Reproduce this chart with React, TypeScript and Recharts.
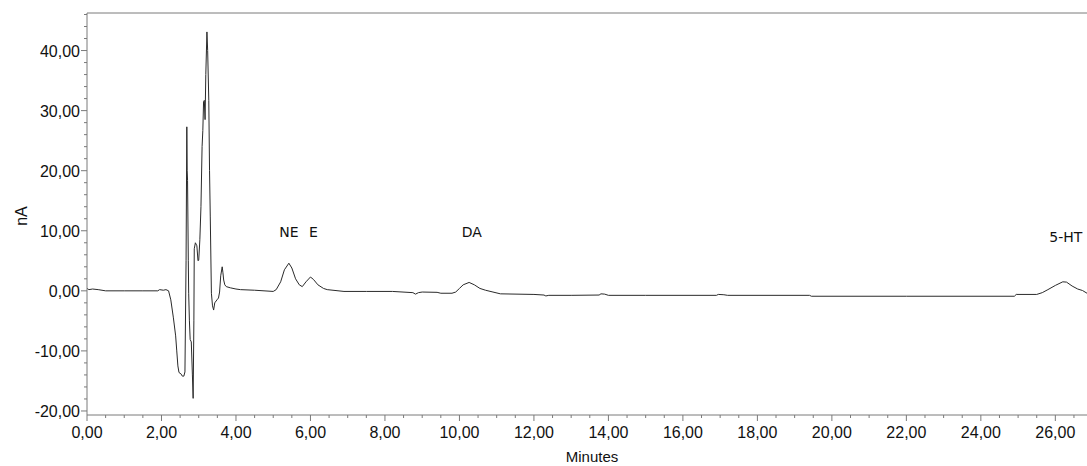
import { LineChart, Line, XAxis, YAxis, ReferenceLine, ReferenceDot } from 'recharts'

// retention time (minutes) and detector current (nA)
const minutes = [
  0, 0.05, 0.15, 0.3, 0.5, 1.0, 1.5, 1.9, 1.95, 2.05, 2.12, 2.19, 2.25, 2.32, 2.38,
  2.41, 2.44, 2.47, 2.52, 2.56, 2.6, 2.63, 2.66, 2.68, 2.69, 2.7, 2.72, 2.73, 2.75,
  2.77, 2.8, 2.83, 2.85, 2.87, 2.88, 2.91, 2.95, 2.98, 3.0, 3.03, 3.06, 3.09, 3.11,
  3.13, 3.15, 3.17, 3.19, 3.22, 3.24, 3.27, 3.29, 3.31, 3.34, 3.37, 3.4, 3.43, 3.49,
  3.53, 3.56, 3.59, 3.63, 3.65, 3.67, 3.7, 3.74, 3.85, 4.0, 4.12, 4.5, 5.0, 5.08,
  5.2, 5.3, 5.42, 5.5, 5.6, 5.7, 5.78, 5.88, 6.0, 6.08, 6.2, 6.35, 6.45, 6.9, 7.5,
  8.2, 8.75, 8.82, 8.9, 9.0, 9.4, 9.5, 9.8, 9.9, 10.0, 10.1, 10.26, 10.4, 10.55,
  10.7, 10.9, 11.1, 12.0, 12.27, 12.32, 12.4, 13.0, 13.75, 13.8, 13.9, 14.0, 15.0,
  16.9, 16.95, 17.1, 17.2, 19.4, 19.45, 22.0, 24.9, 24.95, 25.5, 25.65, 25.8, 26.0,
  26.2, 26.3, 26.45, 26.6, 26.73, 26.85,
]
const current = [
  0.4, 0.2, 0.3, 0.2, 0.0, 0.0, 0.0, 0.0, 0.2, 0.1, 0.2, 0.0, -1.5, -4.5, -7.5,
  -10, -12.5, -13.6, -13.8, -14.2, -14.2, -13.5, 5, 27.3, 20, 18.4, 5, -0.4, -5,
  -8.1, -8.5, -14, -17.9, -5, 7.0, 8.0, 7.5, 5.0, 5.1, 8.5, 14, 24, 26.7,
  31.5, 31.7, 28.5, 36, 43.1, 40, 31.7, 20, 12.3, -0.4, -2.5, -3.2, -2.0, -1.5,
  -1.2, -0.2, 2.5, 4.0, 3.0, 1.8, 1.0, 0.7, 0.5, 0.3, 0.2, 0.1, -0.1, 0.2,
  1.5, 3.5, 4.6, 3.8, 2.0, 1.0, 0.7, 1.5, 2.3, 1.9, 1.0, 0.4, 0.2, -0.1, -0.1,
  -0.1, -0.3, -0.55, -0.3, -0.2, -0.25, -0.4, -0.4, -0.2, 0.4, 1.0, 1.4, 1.0, 0.4,
  0.1, -0.2, -0.5, -0.6, -0.7, -0.85, -0.75, -0.75, -0.7, -0.5, -0.55, -0.75, -0.75,
  -0.75, -0.6, -0.65, -0.75, -0.75, -0.9, -0.9, -0.9, -0.6, -0.6, -0.3, 0.2, 0.9,
  1.5, 1.45, 0.8, 0.3, 0.05, -0.4,
]

const peakNames = ['NE', 'E', 'DA', '5-HT']
const peakTimes = [5.42, 6.08, 10.33, 26.28]
const peakLabelLevels = [9.8, 9.8, 9.8, 9.0]

const xTicks = Array.from({ length: 54 }, (_, i) => i * 0.5)
const yTicks = Array.from({ length: 34 }, (_, i) => -20 + i * 2)
const X_MAX = 26.85
const Y_MIN = -20.67
const Y_MAX = 46.25

const data = minutes.map((t, i) => ({ t, nA: current[i] }))

const fmt = (v: number) => v.toFixed(2).replace('.', ',')
const AXIS = '#7a7a7a'
const FONT = '"Liberation Sans", Arial, sans-serif'

function XTick(props: any) {
  const { x, y, payload } = props
  const major = Math.abs(payload.value % 2) < 1e-6
  return (
    <g>
      <line x1={x} x2={x} y1={y} y2={y + (major ? 6 : 3)} stroke={AXIS} />
      {major && (
        <text x={x} y={y + 23} textAnchor="middle" fill="#111" fontSize={16} fontFamily={FONT}>
          {fmt(payload.value)}
        </text>
      )}
    </g>
  )
}

function YTick(props: any) {
  const { x, y, payload } = props
  const major = Math.abs(payload.value % 10) < 1e-6
  return (
    <g>
      <line x1={x - (major ? 6 : 3)} x2={x} y1={y} y2={y} stroke={AXIS} />
      {major && (
        <text x={x - 7} y={y + 6} textAnchor="end" fill="#111" fontSize={16} fontFamily={FONT}>
          {fmt(payload.value)}
        </text>
      )}
    </g>
  )
}

export default function App() {
  return (
    <div style={{ position: 'absolute', left: 0, top: 0, background: '#fff' }}>
      <LineChart width={1087} height={466} data={data} margin={{ top: 13, right: 0, bottom: 0, left: 0 }}>
        <XAxis
          dataKey="t"
          type="number"
          domain={[0, X_MAX]}
          ticks={xTicks}
          allowDataOverflow
          interval={0}
          height={51}
          tickSize={0}
          tickMargin={0}
          tickLine={false}
          axisLine={{ stroke: AXIS }}
          tick={XTick}
          label={{
            content: () => (
              <text x={592} y={462} textAnchor="middle" fill="#111" fontSize={15} fontFamily={FONT}>
                Minutes
              </text>
            ),
          }}
        />
        <YAxis
          type="number"
          domain={[Y_MIN, Y_MAX]}
          ticks={yTicks}
          allowDataOverflow
          interval={0}
          width={87}
          tickSize={0}
          tickMargin={0}
          tickLine={false}
          axisLine={{ stroke: AXIS }}
          tick={YTick}
          label={{
            content: () => (
              <text
                x={21}
                y={216}
                transform="rotate(-90 21 216)"
                textAnchor="middle"
                dominantBaseline="central"
                fill="#111"
                fontSize={16}
                fontFamily={FONT}
              >
                nA
              </text>
            ),
          }}
        />
        <ReferenceLine y={Y_MAX} stroke={AXIS} />
        <Line
          type="linear"
          dataKey="nA"
          stroke="#2a2a2a"
          strokeWidth={1}
          dot={false}
          isAnimationActive={false}
        />
        {peakNames.map((name, i) => (
          <ReferenceDot
            key={name}
            x={peakTimes[i]}
            y={peakLabelLevels[i]}
            r={0}
            fill="none"
            stroke="none"
            label={{ value: name, position: 'center', fill: '#111', fontSize: 14, fontFamily: '"DejaVu Sans", sans-serif' }}
          />
        ))}
      </LineChart>
    </div>
  )
}
